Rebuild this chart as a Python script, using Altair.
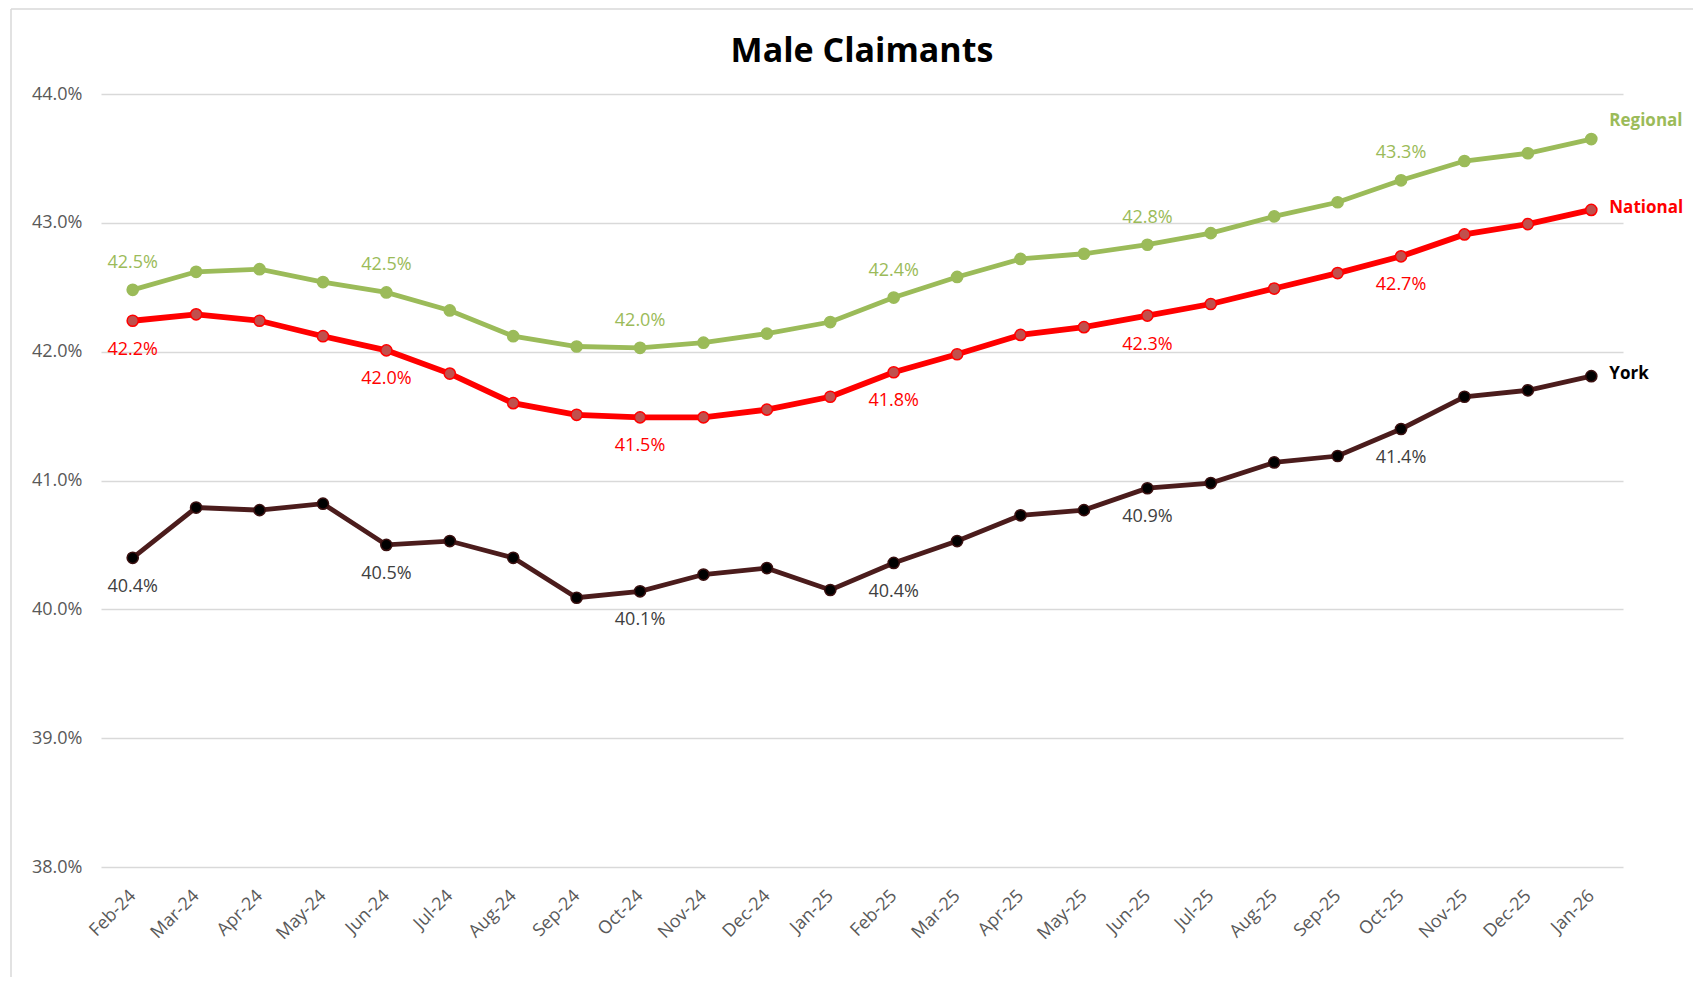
import altair as alt
import pandas as pd

months = ["Feb-24", "Mar-24", "Apr-24", "May-24", "Jun-24", "Jul-24", "Aug-24", "Sep-24",
          "Oct-24", "Nov-24", "Dec-24", "Jan-25", "Feb-25", "Mar-25", "Apr-25", "May-25",
          "Jun-25", "Jul-25", "Aug-25", "Sep-25", "Oct-25", "Nov-25", "Dec-25", "Jan-26"]

regional = [42.48, 42.62, 42.64, 42.54, 42.46, 42.32, 42.12, 42.04, 42.03, 42.07, 42.14, 42.23,
            42.42, 42.58, 42.72, 42.76, 42.83, 42.92, 43.05, 43.16, 43.33, 43.48, 43.54, 43.65]
national = [42.24, 42.29, 42.24, 42.12, 42.01, 41.83, 41.60, 41.51, 41.49, 41.49, 41.55, 41.65,
            41.84, 41.98, 42.13, 42.19, 42.28, 42.37, 42.49, 42.61, 42.74, 42.91, 42.99, 43.10]
york = [40.40, 40.79, 40.77, 40.82, 40.50, 40.53, 40.40, 40.09, 40.14, 40.27, 40.32, 40.15,
        40.36, 40.53, 40.73, 40.77, 40.94, 40.98, 41.14, 41.19, 41.40, 41.65, 41.70, 41.81]

labelled_idx = [0, 4, 8, 12, 16, 20]
y_ticks = [38, 39, 40, 41, 42, 43, 44]
title_text = "Male Claimants"

series_values = {"Regional": regional, "National": national, "York": york}

rows = []
for name, vals in series_values.items():
    for i, (m, v) in enumerate(zip(months, vals)):
        rows.append({"month": m, "series": name, "value": v, "idx": i,
                     "show": i in labelled_idx, "label": f"{v:.1f}%"})
df = pd.DataFrame(rows)

FONT = "Open Sans"
W, H = 1522, 773

style = {
    "Regional": dict(line="#9BBB59", width=4.8, fill="#9BBB59", stroke="#9BBB59",
                     lab="#9BBB59", dy=-27, end_dy=-18, end_color="#9BBB59"),
    "National": dict(line="#FF0000", width=5.8, fill="#C0504D", stroke="#FF0000",
                     lab="#FF0000", dy=29, end_dy=-2, end_color="#FF0000"),
    "York": dict(line="#4B1C1C", width=4.8, fill="#000000", stroke="#3A1010",
                 lab="#404040", dy=29, end_dy=-2, end_color="#000000"),
}

base = alt.Chart(df).encode(
    x=alt.X("month:O", sort=months, scale=alt.Scale(padding=0.5),
            axis=alt.Axis(title=None, labelAngle=-45, labelAlign="right", labelBaseline="middle",
                          labelFontSize=18, labelFont=FONT, labelColor="#595959",
                          labelPadding=26, ticks=False, domain=False, grid=False,
                          labelOverlap=False)),
    y=alt.Y("value:Q", scale=alt.Scale(domain=[38, 44], nice=False, zero=False),
            axis=alt.Axis(title=None, values=y_ticks, labelExpr="format(datum.value, '.1f') + '%'",
                          labelFontSize=18, labelFont=FONT, labelColor="#595959",
                          labelPadding=19, ticks=False, domain=False, grid=True,
                          gridColor="#D9D9D9", gridWidth=1.3)),
)

frame_df = pd.DataFrame({"k": [0]})
layers = [
    # light chart-area frame (left and top edges)
    alt.Chart(frame_df).mark_rule(color="#D9D9D9", strokeWidth=1.5)
    .encode(x=alt.value(-90), y=alt.value(-85), y2=alt.value(883)),
    alt.Chart(frame_df).mark_rule(color="#D9D9D9", strokeWidth=1.5)
    .encode(x=alt.value(-90), x2=alt.value(1600), y=alt.value(-85)),
    # chart title
    alt.Chart(frame_df).mark_text(text=title_text, fontSize=34, font=FONT, fontWeight="bold",
                                  color="#000000", align="center", baseline="alphabetic")
    .encode(x=alt.value(W / 2), y=alt.value(-32)),
]
for name in ["Regional", "National", "York"]:
    s = style[name]
    sel = base.transform_filter(alt.datum.series == name)
    layers.append(sel.mark_line(color=s["line"], strokeWidth=s["width"]))
for name in ["Regional", "National", "York"]:
    s = style[name]
    sel = base.transform_filter(alt.datum.series == name)
    layers.append(sel.mark_point(shape="circle", filled=True, size=125, fill=s["fill"],
                                 stroke=s["stroke"], strokeWidth=1.5, opacity=1))
    layers.append(base.transform_filter((alt.datum.series == name) & alt.datum.show)
                  .mark_text(dy=s["dy"], color=s["lab"], fontSize=18, font=FONT)
                  .encode(text="label:N"))
    layers.append(base.transform_filter((alt.datum.series == name) & (alt.datum.idx == 23))
                  .mark_text(align="left", dx=18, dy=s["end_dy"], color=s["end_color"],
                             fontSize=17, font=FONT, fontWeight="bold")
                  .encode(text="series:N"))

chart = alt.layer(*layers).properties(
    width=W,
    height=H,
    autosize=alt.AutoSizeParams(type="none"),
    padding={"left": 93, "top": 86, "right": 70, "bottom": 110},
    background="white",
).configure_view(stroke=None)

chart.save("out.html", embed_options={"renderer": "svg", "actions": False})
